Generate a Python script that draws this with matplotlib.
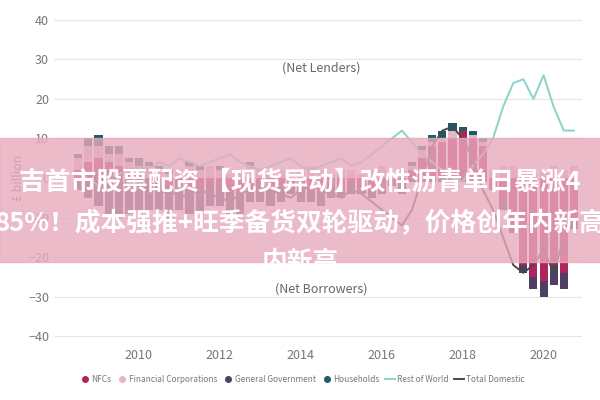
import matplotlib.pyplot as plt
from matplotlib.lines import Line2D
import numpy as np

plt.rcParams['font.family'] = ['Noto Sans CJK SC', 'DejaVu Sans']

# quarterly sectoral balances, £ billion
quarters = np.arange(2008.5, 2021.0, 0.25)
nfcs = [2, 4, 5, 4, 3, 2, 1, 0, -1, -2, -1, -3, -2, -1, -2, -3, -4, -2, -1, -3,
        -2, -1, -2, -3, -4, -2, -3, -1, -2, -3, -2, -1, -2, 2, 5, 8, 9, 10, 12, 10,
        8, -2, -6, -12, -22, -25, -26, -22, -24, -10]
fin_corps = [3, 4, 3, 2, 3, 2, 2, 3, 2, 1, 2, 3, 2, 3, 2, 1, 2, 3, 2, 1,
             2, 1, 2, 3, 2, 1, 2, 2, 1, 2, 3, 1, 2, 1, 2, 1, 1, 2, 0, 1,
             1, 2, 3, 3, 2, 1, 2, 3, 2, 3]
gen_gov = [-3, -5, -7, -9, -10, -9, -8, -8, -7, -8, -7, -6, -7, -6, -5, -6, -5, -4, -5, -4,
           -4, -3, -4, -3, -3, -3, -2, -3, -2, -2, -2, -1, -2, -1, -1, -1, -1, -1, -1, -1,
           -1, -1, -2, -2, -2, -3, -4, -5, -4, -3]
households = [1, 2, 3, 2, 2, 1, 2, 1, 1, 1, 0, 1, 1, 0, 1, 0, 0, 1, 0, 0,
              0, 0, 0, 0, 0, 0, 0, 0, 0, 0, 0, 0, 0, 1, 1, 2, 2, 2, 1, 1,
              1, 0, 0, 0, 0, 0, 0, 0, 0, 0]
rest_of_world = [1, 0, -2, -1, 1, 2, 3, 2, 4, 3, 5, 4, 3, 4, 5, 6, 4, 3, 2, 3,
                 4, 5, 3, 2, 3, 4, 5, 3, 4, 6, 8, 10, 12, 9, 6, 4, 2, 0, -1, 3,
                 6, 10, 18, 24, 25, 20, 26, 18, 12, 12]
total_domestic = [-1, 0, 2, 1, -1, -2, -3, -2, -4, -3, -5, -4, -3, -4, -5, -6, -4, -3, -2, -3,
                  -4, -5, -3, -2, -3, -4, -5, -3, -4, -6, -8, -10, -12, -8, 0, 8, 12, 13, 10, 5,
                  -3, -8, -15, -22, -24, -22, -18, -24, -15, -10]

c_nfc, c_fin, c_gov, c_hh = '#b0245c', '#e3b7c7', '#4f3f63', '#1d5b68'
c_row, c_tot = '#8ad3c9', '#4a4a4a'

fig, ax = plt.subplots(figsize=(6, 4), dpi=100)
fig.subplots_adjust(left=0.09, right=0.97, top=0.97, bottom=0.14)

w = 0.2
series = [(nfcs, c_nfc, 'NFCs'), (fin_corps, c_fin, 'Financial Corporations'),
          (gen_gov, c_gov, 'General Government'), (households, c_hh, 'Households')]
pos_base = np.zeros(len(quarters))
neg_base = np.zeros(len(quarters))
for vals, col, lab in series:
    v = np.array(vals, dtype=float)
    base = np.where(v >= 0, pos_base, neg_base)
    ax.bar(quarters, v, width=w, bottom=base, color=col, zorder=2)
    pos_base += np.clip(v, 0, None)
    neg_base += np.clip(v, None, 0)

ax.plot(quarters, rest_of_world, color=c_row, lw=1.4, zorder=3)
ax.plot(quarters, total_domestic, color=c_tot, lw=1.4, zorder=3)

ax.set_ylim(-42, 42)
ax.set_yticks(range(-40, 41, 10))
ax.set_xlim(2007.9, 2020.95)
ax.set_xticks(range(2010, 2021, 2))
ax.grid(axis='y', color='#e6e6e6', lw=0.8, zorder=0)
for s in ax.spines.values():
    s.set_visible(False)
ax.tick_params(length=0, colors='#777777', labelsize=9)
ax.set_ylabel('£ billion', color='#777777', fontsize=9, labelpad=2)
ax.text(2014.5, 27, '(Net Lenders)', ha='center', color='#666666', fontsize=9)
ax.text(2014.5, -29, '(Net Borrowers)', ha='center', color='#666666', fontsize=9)

handles = [Line2D([], [], ls='', marker='o', ms=4, color=c) for _, c, _ in series]
handles += [Line2D([], [], color=c_row, lw=1.4), Line2D([], [], color=c_tot, lw=1.4)]
labels = [s[2] for s in series] + ['Rest of World', 'Total Domestic']
ax.legend(handles, labels, loc='upper center', bbox_to_anchor=(0.47, -0.07), ncol=6,
          frameon=False, fontsize=6, handlelength=1.2, handletextpad=0.2,
          columnspacing=0.7, labelcolor='#777777')

# overlay banner
fig.patches.append(plt.Rectangle((0, 0.345), 1, 0.31, transform=fig.transFigure,
                                 color='#e8aabd', alpha=0.8, zorder=5))
banner = dict(color='white', fontsize=18.5, fontweight='bold', ha='center',
              va='center', zorder=6)
fig.text(0.5, 0.545, '吉首市股票配资 【现货异动】改性沥青单日暴涨4', **banner)
fig.text(0.5, 0.44, '85%！成本强推+旺季备货双轮驱动，价格创年内新高', **banner)
fig.text(0.5, 0.345, '内新高', **banner)

fig.savefig('out.png')
